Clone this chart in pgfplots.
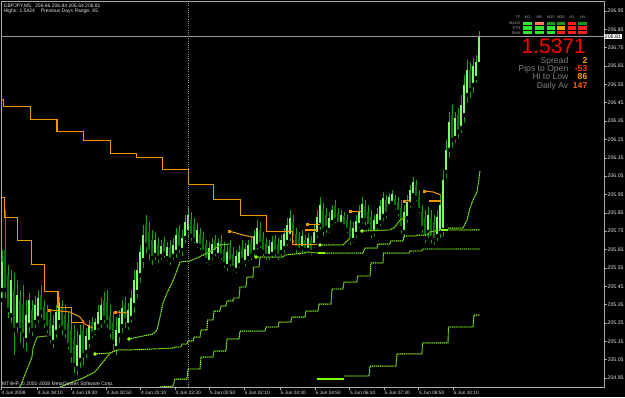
\documentclass[border=0pt]{standalone}
\usepackage{pgfplots}
\pgfplotsset{compat=1.18}
\usepackage{pgfplotstable}
\usepackage{fontspec}
\setmainfont{Liberation Sans}
\definecolor{wick}{RGB}{20,165,20}
\definecolor{bull}{RGB}{125,255,105}
\definecolor{bear}{RGB}{0,120,0}
\definecolor{mtlime}{RGB}{150,255,40}
\definecolor{brightlime}{RGB}{130,255,0}
\definecolor{griser}{RGB}{60,130,0}
\definecolor{mtorange}{RGB}{240,150,0}
\definecolor{oriser}{RGB}{205,115,0}
\definecolor{frame}{RGB}{170,170,170}
\definecolor{pline}{RGB}{150,150,150}
\definecolor{txt}{RGB}{225,225,225}
\definecolor{paneltxt}{RGB}{170,170,170}
\definecolor{sg}{RGB}{50,230,50}
\definecolor{dg}{RGB}{30,150,30}
\definecolor{salmon}{RGB}{255,120,100}
\definecolor{sr}{RGB}{255,30,30}
\definecolor{so}{RGB}{255,160,0}
\definecolor{infogrey}{RGB}{128,128,128}

\pgfplotstableread{
x lo hi bl bh u
2 205.375 205.648 205.430 205.582 1
5 205.375 205.866 205.430 205.648 0
8 205.266 205.566 205.321 205.511 0
11 205.239 205.539 205.293 205.484 1
14 205.064 205.522 205.212 205.430 0
17 205.184 205.484 205.239 205.402 1
20 205.130 205.430 205.212 205.375 0
23 205.103 205.457 205.184 205.348 0
26 205.086 205.375 205.157 205.293 1
29 205.184 205.413 205.239 205.375 1
32 205.168 205.375 205.212 205.321 0
35 205.212 205.397 205.255 205.348 1
38 205.239 205.430 205.277 205.386 1
41 205.266 205.457 205.310 205.402 0
44 205.212 205.375 205.255 205.342 0
47 205.184 205.348 205.222 205.310 0
50 205.130 205.321 205.168 205.266 0
53 205.103 205.293 205.146 205.239 1
56 205.157 205.348 205.201 205.310 1
59 205.212 205.391 205.255 205.359 1
62 205.173 205.375 205.222 205.332 0
65 205.157 205.348 205.201 205.293 0
68 205.092 205.310 205.130 205.255 0
71 205.021 205.277 205.075 205.212 0
74 204.966 205.239 205.021 205.157 0
77 204.955 205.212 205.004 205.130 1
80 204.994 205.239 205.048 205.184 1
83 205.010 205.266 205.075 205.212 0
86 205.048 205.222 205.092 205.179 1
89 205.103 205.266 205.146 205.239 1
92 205.157 205.282 205.190 205.255 0
95 205.173 205.277 205.201 205.255 1
98 205.201 205.348 205.233 205.310 1
101 205.212 205.386 205.255 205.348 1
104 205.239 205.419 205.277 205.375 0
107 205.212 205.430 205.255 205.364 0
110 205.157 205.348 205.201 205.293 0
113 205.092 205.310 205.146 205.255 0
116 205.064 205.282 205.113 205.212 1
119 205.130 205.321 205.184 205.277 1
122 205.184 205.375 205.233 205.332 1
125 205.212 205.391 205.266 205.348 0
128 205.201 205.359 205.239 205.321 1
131 205.239 205.430 205.277 205.386 1
134 205.293 205.539 205.348 205.484 1
137 205.375 205.582 205.419 205.539 1
140 205.457 205.675 205.511 205.637 1
143 205.539 205.784 205.593 205.729 1
146 205.620 205.838 205.675 205.784 0
149 205.582 205.800 205.637 205.746 0
152 205.555 205.757 205.604 205.702 0
155 205.582 205.746 205.620 205.702 1
158 205.566 205.713 205.604 205.675 0
161 205.582 205.702 205.615 205.669 1
164 205.593 205.718 205.626 205.691 0
167 205.577 205.691 205.604 205.664 1
170 205.555 205.702 205.593 205.658 0
173 205.582 205.713 205.615 205.675 1
176 205.593 205.767 205.637 205.729 1
179 205.620 205.784 205.658 205.746 0
182 205.604 205.757 205.648 205.713 1
185 205.675 205.838 205.713 205.800 1
188 205.702 205.882 205.746 205.838 1
191 205.686 205.855 205.724 205.811 0
194 205.675 205.822 205.702 205.784 0
197 205.648 205.795 205.675 205.757 1
200 205.637 205.767 205.669 205.735 0
203 205.604 205.746 205.637 205.713 0
206 205.566 205.702 205.593 205.675 0
209 205.555 205.691 205.582 205.658 1
212 205.582 205.713 205.615 205.680 1
215 205.604 205.729 205.637 205.702 0
218 205.593 205.713 205.620 205.686 1
221 205.582 205.729 205.615 205.691 0
224 205.539 205.691 205.571 205.648 0
227 205.522 205.675 205.560 205.637 1
230 205.549 205.702 205.582 205.664 0
233 205.522 205.664 205.549 205.626 0
236 205.511 205.648 205.539 205.615 1
239 205.539 205.675 205.566 205.637 1
242 205.566 205.702 205.593 205.664 0
245 205.549 205.686 205.582 205.653 1
248 205.577 205.702 205.604 205.675 1
251 205.582 205.724 205.615 205.686 0
254 205.604 205.757 205.637 205.724 1
257 205.637 205.811 205.669 205.767 1
260 205.648 205.800 205.680 205.757 0
263 205.604 205.746 205.637 205.713 0
266 205.582 205.713 205.615 205.680 0
269 205.582 205.702 205.615 205.669 1
272 205.593 205.724 205.626 205.691 1
275 205.604 205.729 205.637 205.702 0
278 205.582 205.713 205.615 205.680 0
281 205.604 205.729 205.637 205.702 1
284 205.620 205.767 205.658 205.735 1
287 205.658 205.822 205.691 205.784 1
290 205.686 205.866 205.724 205.822 1
293 205.675 205.838 205.713 205.800 0
296 205.620 205.767 205.658 205.735 0
299 205.609 205.746 205.648 205.713 0
302 205.620 205.757 205.658 205.724 1
305 205.615 205.729 205.648 205.702 0
308 205.620 205.740 205.648 205.713 1
311 205.609 205.724 205.637 205.697 0
314 205.648 205.784 205.675 205.746 1
317 205.702 205.866 205.735 205.827 1
320 205.746 205.936 205.784 205.893 1
323 205.713 205.904 205.757 205.866 0
326 205.729 205.876 205.767 205.844 0
329 205.729 205.855 205.757 205.822 1
332 205.773 205.893 205.800 205.866 1
335 205.784 205.920 205.811 205.887 0
338 205.767 205.876 205.789 205.849 0
341 205.767 205.866 205.789 205.838 1
344 205.757 205.855 205.778 205.833 0
347 205.729 205.838 205.757 205.811 0
350 205.664 205.811 205.702 205.773 0
353 205.675 205.800 205.702 205.767 1
356 205.702 205.838 205.735 205.806 1
359 205.757 205.893 205.784 205.860 1
362 205.784 205.936 205.811 205.898 1
365 205.773 205.920 205.811 205.887 0
368 205.746 205.893 205.778 205.855 0
371 205.702 205.866 205.740 205.827 0
374 205.713 205.838 205.746 205.811 1
377 205.746 205.876 205.778 205.844 1
380 205.767 205.920 205.800 205.887 1
383 205.795 205.964 205.833 205.931 1
386 205.811 205.947 205.844 205.920 0
389 205.866 205.958 205.887 205.936 1
392 205.882 205.975 205.904 205.953 1
395 205.855 205.947 205.882 205.925 0
398 205.822 205.936 205.855 205.909 0
401 205.729 205.920 205.767 205.876 0
404 205.702 205.893 205.746 205.855 1
407 205.784 205.947 205.822 205.909 1
410 205.866 206.002 205.898 205.975 1
413 205.920 206.045 205.947 206.018 1
416 205.904 206.029 205.931 206.002 0
419 205.838 205.975 205.866 205.942 0
422 205.729 205.893 205.767 205.855 0
425 205.675 205.866 205.713 205.822 0
428 205.702 205.882 205.746 205.838 1
431 205.675 205.866 205.713 205.822 0
434 205.664 205.838 205.702 205.800 0
437 205.686 205.866 205.724 205.827 1
440 205.702 205.947 205.746 205.893 1
443 205.713 206.084 205.757 206.029 1
446 206.029 206.247 206.073 206.193 1
449 206.138 206.399 206.193 206.345 1
452 206.193 206.438 206.247 206.383 0
455 206.220 206.399 206.258 206.367 1
458 206.247 206.421 206.291 206.383 0
461 206.274 206.492 206.312 206.438 1
464 206.329 206.601 206.383 206.547 1
467 206.438 206.683 206.492 206.629 1
470 206.465 206.672 206.520 206.629 0
473 206.492 206.694 206.547 206.650 1
476 206.547 206.710 206.585 206.672 1
479 206.640 206.840 206.660 206.810 1
}\bars

\pgfplotstableread{
x y
20 204.901
24 204.955
28 205.010
32 205.064
33 205.113
37 205.173
47 205.179
}\gTa
\pgfplotstableread{
x y
60 204.901
70 204.923
83 204.950
95 204.983
103 205.037
110 205.086
117 205.103
}\gTb
\pgfplotstableread{
x y
95 205.081
110 205.086
117 205.103
130 205.103
173 205.113
175 205.119
181 205.119
182 205.135
187 205.135
188 205.152
193 205.152
194 205.173
200 205.173
201 205.212
207 205.212
207.5 205.266
213 205.266
214 205.315
220 205.315
221 205.342
226 205.342
227 205.370
233 205.370
233.5 205.386
239 205.386
240 205.446
246 205.446
247 205.500
253 205.500
253.5 205.555
259 205.555
260 205.604
}\gTc
\pgfplotstableread{
x y
129 205.163
153 205.190
157 205.212
160 205.282
163 205.359
167 205.413
172 205.468
176 205.522
180 205.582
190 205.588
197 205.604
203 205.620
213 205.648
220 205.675
230 205.680
}\gTd
\pgfplotstableread{
x y
256 205.609
283 205.609
285 205.620
303 205.631
307 205.637
318 205.631
363 205.631
365 205.658
377 205.658
378 205.680
390 205.680
391 205.697
403 205.697
404 205.724
416 205.724
417 205.729
427 205.729
430 205.746
441 205.757
480 205.757
}\gTe
\pgfplotstableread{
x y
320 205.675
343 205.675
347 205.697
350 205.713
}\gTf
\pgfplotstableread{
x y
362 205.751
390 205.757
395 205.773
400 205.811
406 205.827
}\gTg
\pgfplotstableread{
x y
448 205.767
463 205.767
467 205.811
470 205.876
473 205.920
477 205.964
480 206.078
}\gTh
\pgfplotstableread{
x y
160 204.901
173 204.906
175 204.944
187 204.944
188 204.999
200 204.999
201 205.064
213 205.064
214 205.097
226 205.097
227 205.163
239 205.163
240 205.206
265 205.206
266 205.228
278 205.228
279 205.255
291 205.255
292 205.282
305 205.282
306 205.315
318 205.315
319 205.353
331 205.353
332 205.435
343 205.435
344 205.473
357 205.473
357.5 205.506
370 205.506
371 205.577
383 205.577
383.5 205.631
409 205.631
410 205.642
422 205.642
422.5 205.653
480 205.653
}\gSa
\pgfplotstableread{
x y
344 204.961
369 204.961
370 205.015
396 205.015
397 205.081
422 205.081
422.5 205.141
448 205.141
448.5 205.228
473 205.228
474 205.293
480 205.293
}\gSb
\pgfplotstableread{
x y
1 206.470
4 206.432
31 206.361
57 206.296
83 206.242
110 206.171
136 206.149
162 206.084
188 206.002
213 205.925
240 205.833
266 205.751
292 205.675
317 205.675
}\oA
\pgfplotstableread{
x y
1 205.931
5 205.822
18 205.702
32 205.571
45 205.419
58 205.332
71 205.255
83 205.255
}\oB

\pgfplotsset{
  gbase/.style={draw=griser, line width=0.8pt, mark=none},
  gdot/.style={draw=mtlime, line width=0.95pt, densely dotted, mark=none},
  oline/.style={draw=mtorange, line width=1pt, mark=none},
}

\begin{document}
\begin{tikzpicture}
\path[use as bounding box, fill=black] (0,0) rectangle (625pt,397pt);
\begin{axis}[
  at={(1pt,10pt)}, anchor=south west, scale only axis,
  width=603pt, height=386pt,
  xmin=1, xmax=604, ymin=204.901, ymax=207.0045,
  clip mode=individual,
  axis line style={draw=frame, line width=0.7pt},
  tick style={draw=frame, line width=0.6pt},
  tick align=outside, major tick length=3pt,
  xtick pos=bottom, ytick pos=right, yticklabel pos=right,
  xtick={1,37,71.5,106,140.5,175,209.5,244,280,315,349.5,384,418.5,453},
  xticklabels={4 Jun 2008,4 Jun 18:10,4 Jun 19:30,4 Jun 20:50,4 Jun 22:10,4 Jun 23:30,5 Jun 00:50,5 Jun 02:10,5 Jun 03:30,5 Jun 04:50,5 Jun 06:10,5 Jun 07:30,5 Jun 08:50,5 Jun 10:10},
  ytick={204.95,205.05,205.15,205.25,205.35,205.45,205.55,205.65,205.75,205.85,205.95,206.05,206.15,206.25,206.35,206.45,206.55,206.65,206.75,206.85,206.95},
  yticklabels={204.95,205.05,205.15,205.25,205.35,205.45,205.55,205.65,205.75,205.85,205.95,206.05,206.15,206.25,206.35,206.45,206.55,206.65,206.75,206.85,206.95},
  xticklabel style={anchor=north west, inner sep=0pt, xshift=0.5pt, yshift=-0.5pt, text=txt, font=\fontsize{4.8}{5}\selectfont},
  yticklabel style={anchor=west, inner sep=0pt, xshift=0.5pt, text=txt, font=\fontsize{5.2}{6}\selectfont},
]
% price bars: wicks
\addplot[only marks, mark=none, error bars/.cd, y dir=plus, y explicit, error mark=none,
  error bar style={draw=wick, line width=0.9pt, solid}]
  table[x=x, y=lo, y error expr=\thisrow{hi}-\thisrow{lo}] {\bars};
% bear bodies
\addplot[only marks, mark=none, restrict expr to domain={\thisrow{u}}{-0.5:0.5},
  error bars/.cd, y dir=plus, y explicit, error mark=none,
  error bar style={draw=bear, line width=2pt, solid}]
  table[x=x, y=bl, y error expr=\thisrow{bh}-\thisrow{bl}] {\bars};
% bull bodies
\addplot[only marks, mark=none, restrict expr to domain={\thisrow{u}}{0.5:1.5},
  error bars/.cd, y dir=plus, y explicit, error mark=none,
  error bar style={draw=bull, line width=2pt, solid}]
  table[x=x, y=bl, y error expr=\thisrow{bh}-\thisrow{bl}] {\bars};

% orange step lines
\addplot[oline, const plot] table {\oA};
\addplot[oline, const plot] table {\oB};
% orange short lines
\addplot[oline] coordinates {(49,205.321) (70,205.310) (80,205.282) (85,205.244) (93,205.222)};
\addplot[oline] coordinates {(115,205.310) (128,205.304)};
\addplot[oline] coordinates {(229,205.751) (243,205.729) (253,205.718)};
\addplot[oline] coordinates {(307,205.789) (320,205.789)};
\addplot[oline] coordinates {(350,205.860) (361,205.860)};
\addplot[oline] coordinates {(404,205.915) (411,205.915)};
\addplot[oline] coordinates {(424,205.969) (433,205.964) (441,205.947)};
\addplot[draw=mtorange, line width=2.4pt, mark=none] coordinates {(305,205.757) (317,205.757)};
\addplot[draw=mtorange, line width=2.4pt, mark=none] coordinates {(429,205.915) (441,205.915)};
\addplot[only marks, mark=square*, mark size=1.2pt, color=mtorange] coordinates {(49,205.321) (115,205.310) (229,205.751) (307,205.789) (350,205.860) (404,205.915) (424,205.969)};

% green trailing lines
\addplot[gbase] table {\gTa}; \addplot[gdot] table {\gTa};
\addplot[gbase] table {\gTb}; \addplot[gdot] table {\gTb};
\addplot[gbase] table {\gTc}; \addplot[gdot] table {\gTc};
\addplot[gbase] table {\gTd}; \addplot[gdot] table {\gTd};
\addplot[gbase] table {\gTe}; \addplot[gdot] table {\gTe};
\addplot[gbase] table {\gTf}; \addplot[gdot] table {\gTf};
\addplot[gbase] table {\gTg}; \addplot[gdot] table {\gTg};
\addplot[gbase] table {\gTh}; \addplot[gdot] table {\gTh};
\addplot[gbase] table {\gSa}; \addplot[gdot] table {\gSa};
\addplot[gbase] table {\gSb}; \addplot[gdot] table {\gSb};
\addplot[draw=brightlime, line width=2.6pt, mark=none] coordinates {(317,204.944) (344,204.944)};
\addplot[draw=brightlime, line width=2.4pt, mark=none] coordinates {(318,205.631) (325,205.631)};
\addplot[draw=brightlime, line width=2.4pt, mark=none] coordinates {(441,205.757) (448,205.757)};
\addplot[only marks, mark=*, mark size=1.6pt, color=mtlime] coordinates {(95,205.081) (129,205.163) (256,205.609) (320,205.675) (362,205.751)};

% day separator and current price line
\draw[draw=pline, line width=0.7pt, dash pattern=on 1pt off 1.2pt] (axis cs:188,204.901) -- (axis cs:188,207.0045);
\draw[draw=pline, line width=0.8pt] (axis cs:1,206.81) -- (axis cs:604,206.81);
\node[fill=white, text=black, inner sep=0.7pt, anchor=west, font=\fontsize{5.2}{6}\selectfont] at (axis cs:604,206.81) {206.81};
\end{axis}

\begin{scope}[shift={(0,397pt)}, x=1pt, y=-1pt]
  \node[anchor=base west, inner sep=0pt, text=txt, font=\fontsize{5}{6}\selectfont] at (3.5,7.5) {GBPJPY,M5};
  \node[anchor=base west, inner sep=0pt, text=txt, font=\fontsize{5}{6}\selectfont] at (35,7.5) {206.66 206.84 206.64 206.81};
  \node[anchor=base west, inner sep=0pt, text=txt, font=\fontsize{5}{6}\selectfont] at (3.5,12.8) {Highs: 1.5424};
  \node[anchor=base west, inner sep=0pt, text=txt, font=\fontsize{5}{6}\selectfont] at (40.7,12.8) {Previous Days Range: 85};
  \node[anchor=base west, inner sep=0pt, text=txt, font=\fontsize{5}{6}\selectfont] at (2,385.8) {MT4HP, © 2001-2008 MetaQuotes Software Corp.};
  % signal panel
  \foreach \lab/\xx in {M1/523.3,M5/535,M15/546.7,M30/556.7,H1/567.7,H4/578.3}
    \node[anchor=base, inner sep=0pt, text=paneltxt, font=\fontsize{3.8}{4}\selectfont] at (\xx+4.25,19) {\lab};
  \node[anchor=base east, inner sep=0pt, text=paneltxt, font=\fontsize{3.8}{4}\selectfont] at (520.5,19) {TF};
  \node[anchor=base east, inner sep=0pt, text=paneltxt, font=\fontsize{3.8}{4}\selectfont] at (520.5,25) {MACD};
  \node[anchor=base east, inner sep=0pt, text=paneltxt, font=\fontsize{3.8}{4}\selectfont] at (520.5,29.8) {STR};
  \node[anchor=base east, inner sep=0pt, text=paneltxt, font=\fontsize{3.8}{4}\selectfont] at (520.5,34.5) {EMA};
  \foreach \xx/\c in {523.3/sg,535/salmon,546.7/dg,556.7/dg,567.7/sr,578.3/dg}
    \fill[\c] (\xx,21.7) rectangle +(8.5,3.2);
  \foreach \xx/\c in {523.3/sg,535/sg,546.7/sg,556.7/so,567.7/sr,578.3/sr}
    \fill[\c] (\xx,26.5) rectangle +(8.5,3.2);
  \foreach \xx/\c in {523.3/sg,535/sg,546.7/sg,556.7/sr,567.7/sr,578.3/sr}
    \fill[\c] (\xx,31.2) rectangle +(8.5,3.2);
  % info block
  \node[anchor=base east, inner sep=0pt, text=red, font=\fontsize{21}{21}\selectfont] at (586,53.3) {1.5371};
  \node[anchor=base east, inner sep=0pt, text=infogrey, font=\fontsize{8.6}{9}\selectfont] at (568.5,63.2) {Spread};
  \node[anchor=base east, inner sep=0pt, text=infogrey, font=\fontsize{8.6}{9}\selectfont] at (568.5,71.5) {Pips to Open};
  \node[anchor=base east, inner sep=0pt, text=infogrey, font=\fontsize{8.6}{9}\selectfont] at (568.5,79.8) {Hi to Low};
  \node[anchor=base east, inner sep=0pt, text=infogrey, font=\fontsize{8.6}{9}\selectfont] at (568.5,88.1) {Daily Av};
  \node[anchor=base east, inner sep=0pt, text={rgb,255:red,255;green,165;blue,0}, font=\fontsize{8.6}{9}\selectfont\bfseries] at (587.5,63.2) {2};
  \node[anchor=base east, inner sep=0pt, text={rgb,255:red,255;green,70;blue,0}, font=\fontsize{8.6}{9}\selectfont\bfseries] at (587.5,71.5) {-53};
  \node[anchor=base east, inner sep=0pt, text={rgb,255:red,255;green,150;blue,0}, font=\fontsize{8.6}{9}\selectfont\bfseries] at (587.5,79.8) {86};
  \node[anchor=base east, inner sep=0pt, text={rgb,255:red,255;green,90;blue,0}, font=\fontsize{8.6}{9}\selectfont\bfseries] at (587.5,88.1) {147};
\end{scope}
\end{tikzpicture}
\end{document}
